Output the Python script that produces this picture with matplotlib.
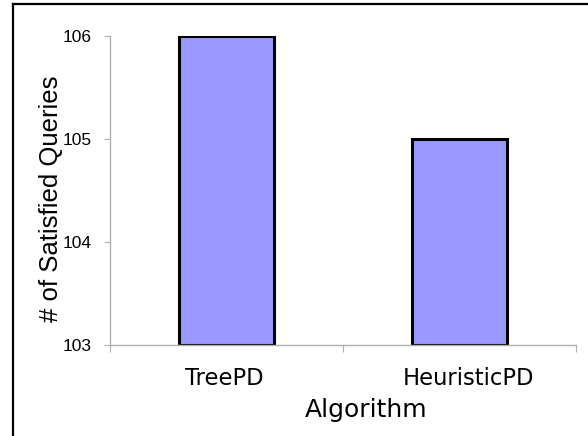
import matplotlib
matplotlib.use("Agg")
import matplotlib.pyplot as plt
from matplotlib.lines import Line2D

algorithms = ["TreePD", "HeuristicPD"]
satisfied = [106, 105]
yticks = [103, 104, 105, 106]

fig = plt.figure(figsize=(5.88, 4.36), dpi=100)
ax = fig.add_axes([110/588, 91/436, 466/588, 309/436])

x = range(len(algorithms))
ax.bar(x, [v - 103 for v in satisfied], bottom=103, width=0.41,
       color="#9999ff", edgecolor="black", linewidth=2.2)

ax.set_xlim(-0.5, 1.5)
ax.set_ylim(103, 106)
ax.set_yticks(yticks)
ax.set_yticklabels([str(t) for t in yticks], fontsize=12.5, family="Liberation Sans")
ax.tick_params(axis="y", length=4, color="#b0b0b0", pad=9)

# category ticks sit between the bars, labels a bit off-centre like the original
ax.set_xticks([-0.5, 0.5, 1.5])
ax.set_xticklabels([])
ax.set_xticks([-0.01, 1.04], minor=True)
ax.set_xticklabels(algorithms, minor=True, fontsize=16.3, family="DejaVu Sans")
ax.tick_params(axis="x", which="major", length=5, color="#b0b0b0")
ax.tick_params(axis="x", which="minor", length=0, pad=16)

for s in ["top", "right"]:
    ax.spines[s].set_visible(False)
for s in ["left", "bottom"]:
    ax.spines[s].set_color("#b0b0b0")
    ax.spines[s].set_linewidth(1)

ax.set_xlabel("Algorithm", fontsize=18, family="DejaVu Sans")
ax.xaxis.set_label_coords(0.55, -0.17)
ax.set_ylabel("# of Satisfied Queries", fontsize=18.5, family="Liberation Sans")
ax.yaxis.set_label_coords(-0.101, 0.474)

# outer frame (only left and top edges visible)
fig.add_artist(Line2D([13/588, 13/588], [0, 1 - 4/436], color="black", lw=1.6))
fig.add_artist(Line2D([13/588, 1], [1 - 4/436, 1 - 4/436], color="black", lw=1.6))

fig.savefig("out.png", dpi=100)
